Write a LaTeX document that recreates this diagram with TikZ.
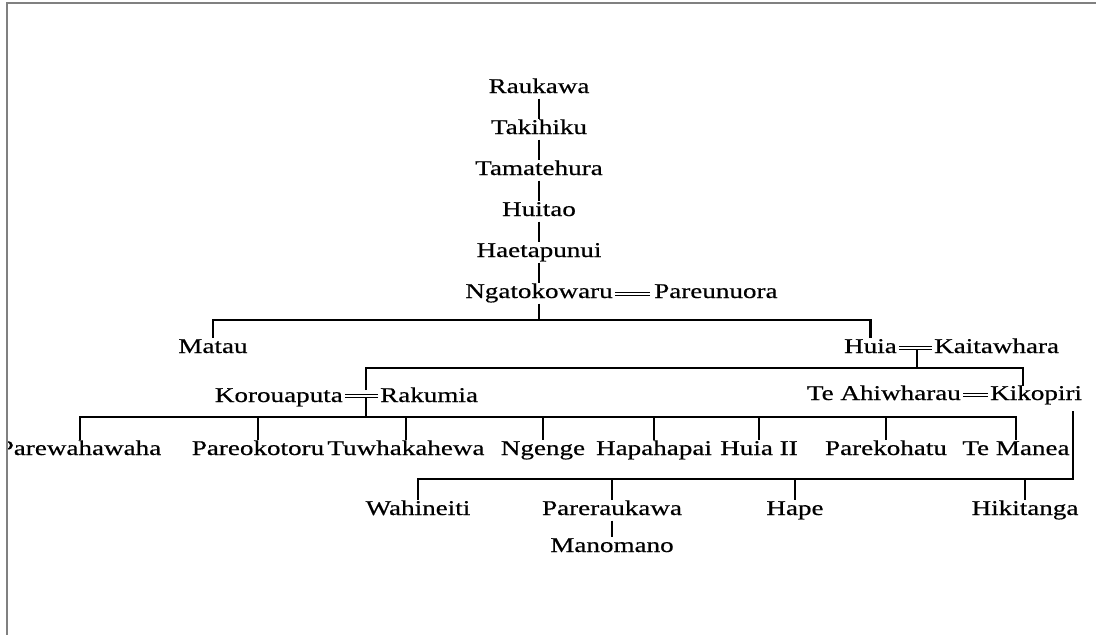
\documentclass[tikz,border=0pt]{standalone}
\usepackage{fontspec}
\setmainfont{Liberation Serif}[FakeStretch=1.29, FakeBold=0.5]
\usetikzlibrary{calc}
\begin{document}
\begin{tikzpicture}[x=1pt,y=-1pt,
  person/.style={inner sep=1pt, text height=14pt, text depth=4.5pt,
                 font=\fontsize{21}{25}\selectfont},
  kin/.style={line width=2.8pt, line join=miter},
  marr/.style={double, double distance=1.6pt, line width=1.6pt}]
\useasboundingbox (0,0) rectangle (1096,635);

\begin{scope}
\clip (8,0) rectangle (1096,635);

% line of descent from Raukawa
\node[person, anchor=base] (rauk) at (539,93)  {Raukawa};
\node[person, anchor=base] (taki) at (539,134) {Takihiku};
\node[person, anchor=base] (tama) at (539,175) {Tamatehura};
\node[person, anchor=base] (huit) at (539,216) {Huitao};
\node[person, anchor=base] (haet) at (539,257) {Haetapunui};
\node[person, anchor=base] (ngat) at (539,298) {Ngatokowaru};
\node[person, anchor=base west] (pareu) at (653,298) {Pareunuora};

\draw[kin] (rauk.south) -- (taki.north);
\draw[kin] (taki.south) -- (tama.north);
\draw[kin] (tama.south) -- (huit.north);
\draw[kin] (huit.south) -- (haet.north);
\draw[kin] (haet.south) -- (ngat.north);
\draw[marr] ($(ngat.base east)+(1,-4)$) -- ($(pareu.base west)+(-3,-4)$);

% children of Ngatokowaru
\coordinate (bar1) at (539,320);
\node[person, anchor=base] (matau) at (213,353) {Matau};
\node[person, anchor=base east] (huia) at (898,353) {Huia};
\node[person, anchor=base west] (kait) at (933,353) {Kaitawhara};
\draw[kin] (ngat.south) -- (bar1);
\draw[kin] (matau.north) |- (bar1) -| (huia.north);
\draw[marr] ($(huia.base east)+(1,-5)$) -- ($(kait.base west)+(-1,-5)$);

% children of Huia and Kaitawhara
\coordinate (huiaM) at (917,350);
\coordinate (bar2) at (917,368);
\node[person, anchor=base east] (koro) at (344,402) {Korouaputa};
\node[person, anchor=base west] (raku) at (379,402) {Rakumia};
\node[person, anchor=base east] (tea) at (962,400) {Te Ahiwharau};
\node[person, anchor=base west] (kiko) at (989,400) {Kikopiri};
\coordinate (rakuIn) at (366,390);
\coordinate (kikoIn) at (1023,386);
\draw[kin] (huiaM) -- (bar2);
\draw[kin] (rakuIn) |- (bar2) -| (kikoIn);
\draw[marr] ($(koro.base east)+(1,-6)$) -- ($(raku.base west)+(-1,-6)$);
\draw[marr] ($(tea.base east)+(1,-5)$) -- ($(kiko.base west)+(-1,-5)$);

% children of Korouaputa and Rakumia
\coordinate (koroM) at (366,398);
\coordinate (bar3) at (366,417);
\node[person, anchor=base] (c1) at (80,455)   {Parewahawaha};
\node[person, anchor=base] (c2) at (258,455)  {Pareokotoru};
\node[person, anchor=base] (c3) at (406,455)  {Tuwhakahewa};
\node[person, anchor=base] (c4) at (543,455)  {Ngenge};
\node[person, anchor=base] (c5) at (654,455)  {Hapahapai};
\node[person, anchor=base] (c6) at (759,455)  {Huia II};
\node[person, anchor=base] (c7) at (886,455)  {Parekohatu};
\node[person, anchor=base] (c8) at (1016,455) {Te Manea};
\draw[kin] (koroM) -- (bar3);
\draw[kin] (c1.north) |- (bar3) -| (c8.north);
\foreach \c in {c2,c3,c4,c5,c6,c7}
  \draw[kin] (\c.north) -- (\c.north |- bar3);

% children of Te Ahiwharau and Kikopiri
\coordinate (kikoM) at (1073,411);
\coordinate (bar4) at (1073,479);
\node[person, anchor=base] (g1) at (418,515)  {Wahineiti};
\node[person, anchor=base] (g2) at (612,515)  {Pareraukawa};
\node[person, anchor=base] (g3) at (795,515)  {Hape};
\node[person, anchor=base] (g4) at (1025,515) {Hikitanga};
\node[person, anchor=base] (mano) at (612,552) {Manomano};
\draw[kin] (kikoM) -- (bar4) -| (g1.north);
\foreach \g in {g2,g3,g4}
  \draw[kin] (\g.north) -- (\g.north |- bar4);
\draw[kin] (g2.south) -- (mano.north);
\end{scope}

% frame edges
\draw[black!50, line width=1.6pt] (7,635) -- (7,3) -- (1096,3);
\end{tikzpicture}
\end{document}
